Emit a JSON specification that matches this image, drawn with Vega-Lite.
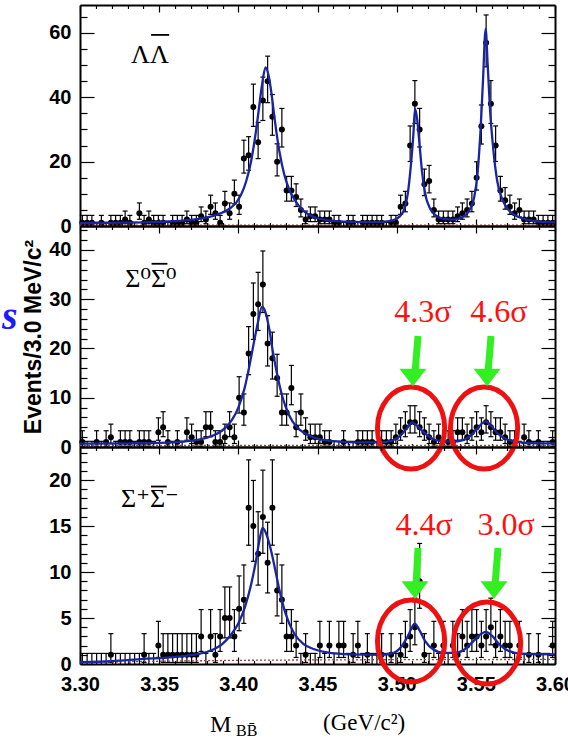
{
  "$schema": "https://vega.github.io/schema/vega-lite/v6.json",
  "padding": {"left": 1, "top": 4, "right": 0, "bottom": 0},
  "background": "white",
  "bounds": "flush",
  "spacing": 0,
  "datasets": {
    "pois": [
      {"n":0,"lo":0,"hi":1.15},{"n":1,"lo":0.17,"hi":3.3},{"n":2,"lo":0.71,"hi":4.64},{"n":3,"lo":1.37,"hi":5.92},
      {"n":4,"lo":2.09,"hi":7.16},{"n":5,"lo":2.84,"hi":8.38},{"n":6,"lo":3.62,"hi":9.58},{"n":7,"lo":4.42,"hi":10.77},
      {"n":8,"lo":5.23,"hi":11.95},{"n":9,"lo":6.06,"hi":13.11},{"n":10,"lo":6.89,"hi":14.27},{"n":11,"lo":7.73,"hi":15.42},
      {"n":12,"lo":8.58,"hi":16.56},{"n":13,"lo":9.44,"hi":17.7},{"n":14,"lo":10.3,"hi":18.83},{"n":15,"lo":11.17,"hi":19.96},
      {"n":16,"lo":12.04,"hi":21.08},{"n":17,"lo":12.92,"hi":22.2},{"n":18,"lo":13.8,"hi":23.32},{"n":19,"lo":14.68,"hi":24.44},
      {"n":20,"lo":15.57,"hi":25.55},{"n":21,"lo":16.45,"hi":26.66},{"n":22,"lo":17.35,"hi":27.77},{"n":25,"lo":20.05,"hi":31.1},
      {"n":26,"lo":20.95,"hi":32.2},{"n":27,"lo":21.85,"hi":33.3},{"n":29,"lo":23.66,"hi":35.46},{"n":30,"lo":24.56,"hi":36.55},
      {"n":31,"lo":25.47,"hi":37.63},{"n":33,"lo":27.3,"hi":39.8},{"n":34,"lo":28.21,"hi":40.87},{"n":37,"lo":30.96,"hi":44.1},
      {"n":38,"lo":31.88,"hi":45.2},{"n":39,"lo":32.8,"hi":46.28},{"n":45,"lo":38.34,"hi":52.8},{"n":57,"lo":49.48,"hi":65.6}
    ],
    "lam": [
      {"m":3.3015,"n":1},{"m":3.3045,"n":1},{"m":3.3075,"n":1},{"m":3.3105,"n":0},{"m":3.3135,"n":1},{"m":3.3165,"n":0},{"m":3.3195,"n":1},{"m":3.3225,"n":1},{"m":3.3255,"n":1},{"m":3.3285,"n":2},
      {"m":3.3315,"n":1},{"m":3.3345,"n":0},{"m":3.3375,"n":4},{"m":3.3405,"n":1},{"m":3.3435,"n":2},{"m":3.3465,"n":1},{"m":3.3495,"n":1},{"m":3.3525,"n":1},{"m":3.3555,"n":0},{"m":3.3585,"n":1},
      {"m":3.3615,"n":1},{"m":3.3645,"n":1},{"m":3.3675,"n":2},{"m":3.3705,"n":1},{"m":3.3735,"n":1},{"m":3.3765,"n":3},{"m":3.3795,"n":2},{"m":3.3825,"n":6},{"m":3.3855,"n":4},{"m":3.3885,"n":1},
      {"m":3.3915,"n":7},{"m":3.3945,"n":4},{"m":3.3975,"n":10},{"m":3.4005,"n":6},{"m":3.4035,"n":21},{"m":3.4065,"n":22},{"m":3.4095,"n":37},{"m":3.4125,"n":26},{"m":3.4155,"n":39},{"m":3.4185,"n":45},
      {"m":3.4215,"n":34},{"m":3.4245,"n":20},{"m":3.4275,"n":30},{"m":3.4305,"n":11},{"m":3.4335,"n":11},{"m":3.4365,"n":9},{"m":3.4395,"n":5},{"m":3.4425,"n":2},{"m":3.4455,"n":3},{"m":3.4485,"n":3},
      {"m":3.4515,"n":2},{"m":3.4545,"n":2},{"m":3.4575,"n":2},{"m":3.4605,"n":1},{"m":3.4635,"n":1},{"m":3.4665,"n":0},{"m":3.4695,"n":1},{"m":3.4725,"n":1},{"m":3.4755,"n":0},{"m":3.4785,"n":1},
      {"m":3.4815,"n":1},{"m":3.4845,"n":1},{"m":3.4875,"n":1},{"m":3.4905,"n":1},{"m":3.4935,"n":0},{"m":3.4965,"n":1},{"m":3.4995,"n":1},{"m":3.5025,"n":6},{"m":3.5055,"n":7},{"m":3.5085,"n":25},
      {"m":3.5115,"n":38},{"m":3.5145,"n":30},{"m":3.5175,"n":13},{"m":3.5205,"n":14},{"m":3.5235,"n":5},{"m":3.5265,"n":2},{"m":3.5295,"n":2},{"m":3.5325,"n":2},{"m":3.5355,"n":2},{"m":3.5385,"n":3},
      {"m":3.5415,"n":4},{"m":3.5445,"n":5},{"m":3.5475,"n":7},{"m":3.5505,"n":15},{"m":3.5535,"n":31},{"m":3.5565,"n":57},{"m":3.5595,"n":38},{"m":3.5625,"n":25},{"m":3.5655,"n":11},{"m":3.5685,"n":8},
      {"m":3.5715,"n":6},{"m":3.5745,"n":4},{"m":3.5775,"n":5},{"m":3.5805,"n":2},{"m":3.5835,"n":2},{"m":3.5865,"n":2},{"m":3.5895,"n":1},{"m":3.5925,"n":1},{"m":3.5955,"n":1},{"m":3.5985,"n":1}
    ],
    "s0": [
      {"m":3.3015,"n":1},{"m":3.3045,"n":0},{"m":3.3075,"n":0},{"m":3.3105,"n":1},{"m":3.3135,"n":0},{"m":3.3165,"n":1},{"m":3.3195,"n":2},{"m":3.3225,"n":0},{"m":3.3255,"n":1},{"m":3.3285,"n":1},
      {"m":3.3315,"n":1},{"m":3.3345,"n":0},{"m":3.3375,"n":1},{"m":3.3405,"n":1},{"m":3.3435,"n":1},{"m":3.3465,"n":0},{"m":3.3495,"n":3},{"m":3.3525,"n":4},{"m":3.3555,"n":1},{"m":3.3585,"n":0},
      {"m":3.3615,"n":1},{"m":3.3645,"n":0},{"m":3.3675,"n":3},{"m":3.3705,"n":2},{"m":3.3735,"n":1},{"m":3.3765,"n":1},{"m":3.3795,"n":4},{"m":3.3825,"n":4},{"m":3.3855,"n":1},{"m":3.3885,"n":1},
      {"m":3.3915,"n":2},{"m":3.3945,"n":4},{"m":3.3975,"n":2},{"m":3.4005,"n":10},{"m":3.4035,"n":7},{"m":3.4065,"n":19},{"m":3.4095,"n":27},{"m":3.4125,"n":29},{"m":3.4155,"n":33},{"m":3.4185,"n":21},
      {"m":3.4215,"n":18},{"m":3.4245,"n":14},{"m":3.4275,"n":7},{"m":3.4305,"n":7},{"m":3.4335,"n":12},{"m":3.4365,"n":4},{"m":3.4395,"n":7},{"m":3.4425,"n":3},{"m":3.4455,"n":2},{"m":3.4485,"n":2},
      {"m":3.4515,"n":2},{"m":3.4545,"n":1},{"m":3.4575,"n":1},{"m":3.4605,"n":0},{"m":3.4635,"n":0},{"m":3.4665,"n":1},{"m":3.4695,"n":0},{"m":3.4725,"n":0},{"m":3.4755,"n":1},{"m":3.4785,"n":1},
      {"m":3.4815,"n":1},{"m":3.4845,"n":1},{"m":3.4875,"n":0},{"m":3.4905,"n":1},{"m":3.4935,"n":1},{"m":3.4965,"n":1},{"m":3.4995,"n":2},{"m":3.5025,"n":3},{"m":3.5055,"n":4},{"m":3.5085,"n":5},
      {"m":3.5115,"n":5},{"m":3.5145,"n":4},{"m":3.5175,"n":3},{"m":3.5205,"n":2},{"m":3.5235,"n":1},{"m":3.5265,"n":2},{"m":3.5295,"n":0},{"m":3.5325,"n":1},{"m":3.5355,"n":1},{"m":3.5385,"n":3},
      {"m":3.5415,"n":3},{"m":3.5445,"n":2},{"m":3.5475,"n":3},{"m":3.5505,"n":4},{"m":3.5535,"n":3},{"m":3.5565,"n":5},{"m":3.5595,"n":4},{"m":3.5625,"n":3},{"m":3.5655,"n":3},{"m":3.5685,"n":2},
      {"m":3.5715,"n":1},{"m":3.5745,"n":1},{"m":3.5775,"n":0},{"m":3.5805,"n":2},{"m":3.5835,"n":1},{"m":3.5865,"n":0},{"m":3.5895,"n":1},{"m":3.5925,"n":0},{"m":3.5955,"n":0},{"m":3.5985,"n":1}
    ],
    "sp": [
      {"m":3.3015,"n":0},{"m":3.3045,"n":0},{"m":3.3075,"n":0},{"m":3.3105,"n":0},{"m":3.3135,"n":0},{"m":3.3165,"n":0},{"m":3.3195,"n":1},{"m":3.3225,"n":0},{"m":3.3255,"n":0},{"m":3.3285,"n":0},
      {"m":3.3315,"n":0},{"m":3.3345,"n":0},{"m":3.3375,"n":0},{"m":3.3405,"n":1},{"m":3.3435,"n":0},{"m":3.3465,"n":0},{"m":3.3495,"n":2},{"m":3.3525,"n":1},{"m":3.3555,"n":1},{"m":3.3585,"n":1},
      {"m":3.3615,"n":1},{"m":3.3645,"n":1},{"m":3.3675,"n":1},{"m":3.3705,"n":1},{"m":3.3735,"n":1},{"m":3.3765,"n":3},{"m":3.3795,"n":0},{"m":3.3825,"n":3},{"m":3.3855,"n":1},{"m":3.3885,"n":3},
      {"m":3.3915,"n":5},{"m":3.3945,"n":5},{"m":3.3975,"n":3},{"m":3.4005,"n":6},{"m":3.4035,"n":7},{"m":3.4065,"n":17},{"m":3.4095,"n":15},{"m":3.4125,"n":12},{"m":3.4155,"n":16},{"m":3.4185,"n":11},
      {"m":3.4215,"n":17},{"m":3.4245,"n":8},{"m":3.4275,"n":7},{"m":3.4305,"n":3},{"m":3.4335,"n":3},{"m":3.4365,"n":2},{"m":3.4395,"n":0},{"m":3.4425,"n":1},{"m":3.4455,"n":0},{"m":3.4485,"n":0},
      {"m":3.4515,"n":2},{"m":3.4545,"n":0},{"m":3.4575,"n":2},{"m":3.4605,"n":0},{"m":3.4635,"n":2},{"m":3.4665,"n":2},{"m":3.4695,"n":0},{"m":3.4725,"n":1},{"m":3.4755,"n":2},{"m":3.4785,"n":0},
      {"m":3.4815,"n":1},{"m":3.4845,"n":0},{"m":3.4875,"n":0},{"m":3.4905,"n":1},{"m":3.4935,"n":0},{"m":3.4965,"n":1},{"m":3.4995,"n":0},{"m":3.5025,"n":1},{"m":3.5055,"n":2},{"m":3.5085,"n":3},
      {"m":3.5115,"n":4},{"m":3.5145,"n":9},{"m":3.5175,"n":1},{"m":3.5205,"n":0},{"m":3.5235,"n":2},{"m":3.5265,"n":0},{"m":3.5295,"n":2},{"m":3.5325,"n":0},{"m":3.5355,"n":2},{"m":3.5385,"n":1},
      {"m":3.5415,"n":3},{"m":3.5445,"n":2},{"m":3.5475,"n":3},{"m":3.5505,"n":3},{"m":3.5535,"n":2},{"m":3.5565,"n":3},{"m":3.5595,"n":4},{"m":3.5625,"n":2},{"m":3.5655,"n":3},{"m":3.5685,"n":2},
      {"m":3.5715,"n":2},{"m":3.5745,"n":0},{"m":3.5775,"n":2},{"m":3.5805,"n":0},{"m":3.5835,"n":1},{"m":3.5865,"n":0},{"m":3.5895,"n":1},{"m":3.5925,"n":0},{"m":3.5955,"n":0},{"m":3.5985,"n":2}
    ],
    "fitlam": [
      {"m":3.3,"f":0.9},{"m":3.32,"f":1.0},{"m":3.34,"f":1.15},{"m":3.355,"f":1.4},{"m":3.365,"f":1.7},{"m":3.375,"f":2.2},{"m":3.383,"f":3.0},{"m":3.39,"f":4.2},{"m":3.395,"f":5.6},{"m":3.399,"f":7.5},
      {"m":3.402,"f":10},{"m":3.405,"f":14},{"m":3.408,"f":20},{"m":3.411,"f":29},{"m":3.413,"f":36.5},{"m":3.415,"f":44},{"m":3.4172,"f":49.3},{"m":3.419,"f":47},{"m":3.421,"f":41},{"m":3.423,"f":33},
      {"m":3.426,"f":23},{"m":3.429,"f":16},{"m":3.432,"f":11.5},{"m":3.436,"f":7.8},{"m":3.44,"f":5.2},{"m":3.445,"f":3.4},{"m":3.45,"f":2.4},{"m":3.458,"f":1.7},{"m":3.468,"f":1.35},{"m":3.48,"f":1.2},
      {"m":3.49,"f":1.3},{"m":3.497,"f":1.7},{"m":3.502,"f":3.0},{"m":3.505,"f":5.5},{"m":3.507,"f":10},{"m":3.509,"f":19},{"m":3.5105,"f":28},{"m":3.5116,"f":36.5},{"m":3.513,"f":33},{"m":3.5145,"f":25},
      {"m":3.516,"f":17},{"m":3.518,"f":10},{"m":3.521,"f":5.5},{"m":3.525,"f":3.2},{"m":3.53,"f":2.2},{"m":3.536,"f":2.0},{"m":3.541,"f":2.6},{"m":3.546,"f":5},{"m":3.549,"f":9},{"m":3.551,"f":16},
      {"m":3.553,"f":30},{"m":3.5545,"f":45},{"m":3.5562,"f":61.3},{"m":3.5575,"f":50},{"m":3.559,"f":36},{"m":3.561,"f":24},{"m":3.5635,"f":14},{"m":3.567,"f":8},{"m":3.571,"f":4.8},{"m":3.576,"f":3.0},
      {"m":3.582,"f":2.0},{"m":3.589,"f":1.4},{"m":3.595,"f":1.2},{"m":3.6,"f":1.1}
    ],
    "fits0": [
      {"m":3.3,"f":0.7},{"m":3.33,"f":0.75},{"m":3.35,"f":0.85},{"m":3.365,"f":1.1},{"m":3.375,"f":1.5},{"m":3.383,"f":2.2},{"m":3.39,"f":3.4},{"m":3.396,"f":5.5},{"m":3.4,"f":8},{"m":3.404,"f":12},
      {"m":3.407,"f":16.5},{"m":3.41,"f":21.5},{"m":3.4125,"f":25.5},{"m":3.415,"f":28.5},{"m":3.417,"f":27.5},{"m":3.4195,"f":24},{"m":3.422,"f":19},{"m":3.425,"f":14},{"m":3.428,"f":10},{"m":3.432,"f":6.5},
      {"m":3.437,"f":4.0},{"m":3.443,"f":2.6},{"m":3.45,"f":1.7},{"m":3.46,"f":1.2},{"m":3.475,"f":0.95},{"m":3.49,"f":0.95},{"m":3.497,"f":1.3},{"m":3.502,"f":2.2},{"m":3.506,"f":3.6},{"m":3.5098,"f":5.0},
      {"m":3.513,"f":4.3},{"m":3.517,"f":3.0},{"m":3.522,"f":1.8},{"m":3.528,"f":1.2},{"m":3.535,"f":1.1},{"m":3.542,"f":1.4},{"m":3.547,"f":2.4},{"m":3.551,"f":3.8},{"m":3.5562,"f":5.2},{"m":3.5595,"f":4.4},
      {"m":3.563,"f":3.0},{"m":3.568,"f":1.8},{"m":3.575,"f":1.1},{"m":3.585,"f":0.8},{"m":3.6,"f":0.75}
    ],
    "fitsp": [
      {"m":3.3,"f":0.2},{"m":3.32,"f":0.3},{"m":3.34,"f":0.55},{"m":3.355,"f":0.7},{"m":3.365,"f":0.85},{"m":3.375,"f":1.1},{"m":3.383,"f":1.5},{"m":3.39,"f":2.2},{"m":3.395,"f":3.1},{"m":3.4,"f":4.4},
      {"m":3.404,"f":6.1},{"m":3.408,"f":8.6},{"m":3.411,"f":11.1},{"m":3.4135,"f":13.6},{"m":3.4153,"f":14.8},{"m":3.417,"f":14.4},{"m":3.42,"f":12.8},{"m":3.423,"f":10.5},{"m":3.426,"f":8.0},{"m":3.43,"f":5.4},
      {"m":3.435,"f":3.4},{"m":3.441,"f":2.2},{"m":3.448,"f":1.6},{"m":3.458,"f":1.2},{"m":3.47,"f":1.05},{"m":3.49,"f":1.0},{"m":3.498,"f":1.2},{"m":3.503,"f":1.9},{"m":3.507,"f":3.0},{"m":3.5114,"f":4.4},
      {"m":3.514,"f":3.8},{"m":3.518,"f":2.5},{"m":3.523,"f":1.6},{"m":3.53,"f":1.2},{"m":3.537,"f":1.2},{"m":3.543,"f":1.6},{"m":3.548,"f":2.4},{"m":3.552,"f":3.1},{"m":3.5563,"f":3.5},{"m":3.56,"f":3.1},
      {"m":3.565,"f":2.1},{"m":3.571,"f":1.4},{"m":3.58,"f":1.1},{"m":3.6,"f":1.05}
    ],
    "bklam": [{"m":3.3,"f":0.3},{"m":3.6,"f":0.3}],
    "bks0": [{"m":3.3,"f":0.3},{"m":3.6,"f":0.35}],
    "bksp": [{"m":3.3,"f":0.15},{"m":3.35,"f":0.3},{"m":3.4,"f":0.4},{"m":3.45,"f":0.45},{"m":3.6,"f":0.5}]
  },
  "vconcat": [
    {
      "width": 475, "height": 221,
      "layer": [
        {"data": {"name": "lam"},
         "transform": [{"lookup": "n", "from": {"data": {"name": "pois"}, "key": "n", "fields": ["lo", "hi"]}}],
         "mark": {"type": "rule", "color": "black", "strokeWidth": 1.2},
         "encoding": {
           "x": {"field": "m", "type": "quantitative", "scale": {"domain": [3.3, 3.6], "nice": false, "zero": false},
                 "axis": {"orient": "bottom", "title": null, "labels": false, "values": [3.3,3.31,3.32,3.33,3.34,3.35,3.36,3.37,3.38,3.39,3.4,3.41,3.42,3.43,3.44,3.45,3.46,3.47,3.48,3.49,3.5,3.51,3.52,3.53,3.54,3.55,3.56,3.57,3.58,3.59,3.6],
                          "tickSize": {"condition": {"test": "round(datum.value*100) % 5 === 0", "value": -7}, "value": -3.5}}},
           "y": {"field": "lo", "type": "quantitative", "scale": {"domain": [0, 68.7], "nice": false, "zero": false},
                 "axis": {"orient": "left", "title": null, "values": [0,5,10,15,20,25,30,35,40,45,50,55,60,65],
                          "labelExpr": "datum.value % 20 === 0 ? datum.label : ''", "labelPadding": 23,
                          "tickSize": {"condition": {"test": "datum.value % 20 === 0", "value": -14}, "value": -7}}},
           "y2": {"field": "hi"}
         }},
        {"data": {"name": "lam"},
         "transform": [{"lookup": "n", "from": {"data": {"name": "pois"}, "key": "n", "fields": ["lo", "hi"]}}],
         "mark": {"type": "point", "shape": "stroke", "size": 25, "color": "black", "strokeWidth": 1.2, "opacity": 1},
         "encoding": {
           "x": {"field": "m", "type": "quantitative", "scale": {"domain": [3.3, 3.6], "nice": false, "zero": false},
                 "axis": {"orient": "top", "title": null, "labels": false, "values": [3.3,3.31,3.32,3.33,3.34,3.35,3.36,3.37,3.38,3.39,3.4,3.41,3.42,3.43,3.44,3.45,3.46,3.47,3.48,3.49,3.5,3.51,3.52,3.53,3.54,3.55,3.56,3.57,3.58,3.59,3.6],
                          "tickSize": {"condition": {"test": "round(datum.value*100) % 5 === 0", "value": -7}, "value": -3.5}}},
           "y": {"field": "hi", "type": "quantitative", "scale": {"domain": [0, 68.7], "nice": false, "zero": false},
                 "axis": {"orient": "right", "title": null, "labels": false, "values": [0,5,10,15,20,25,30,35,40,45,50,55,60,65],
                          "tickSize": {"condition": {"test": "datum.value % 20 === 0", "value": -14}, "value": -7}}}
         }},
        {"data": {"name": "lam"},
         "transform": [{"lookup": "n", "from": {"data": {"name": "pois"}, "key": "n", "fields": ["lo", "hi"]}}, {"filter": "datum.n > 0"}],
         "mark": {"type": "point", "shape": "stroke", "size": 25, "color": "black", "strokeWidth": 1.2, "opacity": 1},
         "encoding": {
           "x": {"field": "m", "type": "quantitative", "scale": {"domain": [3.3, 3.6], "nice": false, "zero": false}, "axis": null},
           "y": {"field": "lo", "type": "quantitative", "scale": {"domain": [0, 68.7], "nice": false, "zero": false}, "axis": null}
         }},
        {"data": {"name": "lam"},
         "transform": [{"filter": "datum.n > 0"}],
         "mark": {"type": "point", "shape": "circle", "filled": true, "size": 36, "color": "black", "opacity": 1},
         "encoding": {
           "x": {"field": "m", "type": "quantitative", "scale": {"domain": [3.3, 3.6], "nice": false, "zero": false}, "axis": null},
           "y": {"field": "n", "type": "quantitative", "scale": {"domain": [0, 68.7], "nice": false, "zero": false}, "axis": null}
         }},
        {"data": {"name": "bklam"},
         "mark": {"type": "line", "color": "#b03a3a", "strokeWidth": 1.3, "strokeDash": [2, 2]},
         "encoding": {
           "x": {"field": "m", "type": "quantitative", "scale": {"domain": [3.3, 3.6], "nice": false, "zero": false}, "axis": null},
           "y": {"field": "f", "type": "quantitative", "scale": {"domain": [0, 68.7], "nice": false, "zero": false}, "axis": null}
         }},
        {"data": {"name": "fitlam"},
         "mark": {"type": "line", "color": "#1a25a0", "strokeWidth": 2.3, "interpolate": "monotone"},
         "encoding": {
           "x": {"field": "m", "type": "quantitative", "scale": {"domain": [3.3, 3.6], "nice": false, "zero": false}, "axis": null},
           "y": {"field": "f", "type": "quantitative", "scale": {"domain": [0, 68.7], "nice": false, "zero": false}, "axis": null}
         }},
        {"data": {"values": [{"m": 3.3442, "v": 50.7, "t": "\u039b\u039b"}]},
         "mark": {"type": "text", "font": "Liberation Serif", "fontSize": 26, "align": "center", "baseline": "alphabetic", "color": "black"},
         "encoding": {
           "x": {"field": "m", "type": "quantitative", "scale": {"domain": [3.3, 3.6], "nice": false, "zero": false}, "axis": null},
           "y": {"field": "v", "type": "quantitative", "scale": {"domain": [0, 68.7], "nice": false, "zero": false}, "axis": null},
           "text": {"field": "t"}
         }},
        {"data": {"values": [{"m": 3.3449, "m2": 3.3563, "v": 59.4}]},
         "mark": {"type": "rule", "color": "black", "strokeWidth": 1.8},
         "encoding": {
           "x": {"field": "m", "type": "quantitative", "scale": {"domain": [3.3, 3.6], "nice": false, "zero": false}, "axis": null},
           "x2": {"field": "m2"},
           "y": {"field": "v", "type": "quantitative", "scale": {"domain": [0, 68.7], "nice": false, "zero": false}, "axis": null}
         }}
      ],
      "resolve": {"axis": {"x": "independent", "y": "independent"}}
    },
    {
      "width": 475, "height": 221,
      "layer": [
        {"data": {"name": "s0"},
         "transform": [{"lookup": "n", "from": {"data": {"name": "pois"}, "key": "n", "fields": ["lo", "hi"]}}],
         "mark": {"type": "rule", "color": "black", "strokeWidth": 1.2},
         "encoding": {
           "x": {"field": "m", "type": "quantitative", "scale": {"domain": [3.3, 3.6], "nice": false, "zero": false},
                 "axis": {"orient": "bottom", "title": null, "labels": false, "values": [3.3,3.31,3.32,3.33,3.34,3.35,3.36,3.37,3.38,3.39,3.4,3.41,3.42,3.43,3.44,3.45,3.46,3.47,3.48,3.49,3.5,3.51,3.52,3.53,3.54,3.55,3.56,3.57,3.58,3.59,3.6],
                          "tickSize": {"condition": {"test": "round(datum.value*100) % 5 === 0", "value": -7}, "value": -3.5}}},
           "y": {"field": "lo", "type": "quantitative", "scale": {"domain": [0, 44.87], "nice": false, "zero": false},
                 "axis": {"orient": "left", "title": "Events/3.0 MeV/c\u00b2", "titlePadding": 3, "values": [0,2,4,6,8,10,12,14,16,18,20,22,24,26,28,30,32,34,36,38,40,42,44],
                          "labelExpr": "datum.value % 10 === 0 ? datum.label : ''", "labelPadding": 23,
                          "tickSize": {"condition": {"test": "datum.value % 10 === 0", "value": -14}, "value": -7}}},
           "y2": {"field": "hi"}
         }},
        {"data": {"name": "s0"},
         "transform": [{"lookup": "n", "from": {"data": {"name": "pois"}, "key": "n", "fields": ["lo", "hi"]}}],
         "mark": {"type": "point", "shape": "stroke", "size": 25, "color": "black", "strokeWidth": 1.2, "opacity": 1},
         "encoding": {
           "x": {"field": "m", "type": "quantitative", "scale": {"domain": [3.3, 3.6], "nice": false, "zero": false},
                 "axis": {"orient": "top", "title": null, "labels": false, "values": [3.3,3.31,3.32,3.33,3.34,3.35,3.36,3.37,3.38,3.39,3.4,3.41,3.42,3.43,3.44,3.45,3.46,3.47,3.48,3.49,3.5,3.51,3.52,3.53,3.54,3.55,3.56,3.57,3.58,3.59,3.6],
                          "tickSize": {"condition": {"test": "round(datum.value*100) % 5 === 0", "value": -7}, "value": -3.5}}},
           "y": {"field": "hi", "type": "quantitative", "scale": {"domain": [0, 44.87], "nice": false, "zero": false},
                 "axis": {"orient": "right", "title": null, "labels": false, "values": [0,2,4,6,8,10,12,14,16,18,20,22,24,26,28,30,32,34,36,38,40,42,44],
                          "tickSize": {"condition": {"test": "datum.value % 10 === 0", "value": -14}, "value": -7}}}
         }},
        {"data": {"name": "s0"},
         "transform": [{"lookup": "n", "from": {"data": {"name": "pois"}, "key": "n", "fields": ["lo", "hi"]}}, {"filter": "datum.n > 0"}],
         "mark": {"type": "point", "shape": "stroke", "size": 25, "color": "black", "strokeWidth": 1.2, "opacity": 1},
         "encoding": {
           "x": {"field": "m", "type": "quantitative", "scale": {"domain": [3.3, 3.6], "nice": false, "zero": false}, "axis": null},
           "y": {"field": "lo", "type": "quantitative", "scale": {"domain": [0, 44.87], "nice": false, "zero": false}, "axis": null}
         }},
        {"data": {"name": "s0"},
         "transform": [{"filter": "datum.n > 0"}],
         "mark": {"type": "point", "shape": "circle", "filled": true, "size": 36, "color": "black", "opacity": 1},
         "encoding": {
           "x": {"field": "m", "type": "quantitative", "scale": {"domain": [3.3, 3.6], "nice": false, "zero": false}, "axis": null},
           "y": {"field": "n", "type": "quantitative", "scale": {"domain": [0, 44.87], "nice": false, "zero": false}, "axis": null}
         }},
        {"data": {"name": "bks0"},
         "mark": {"type": "line", "color": "#b03a3a", "strokeWidth": 1.3, "strokeDash": [2, 2]},
         "encoding": {
           "x": {"field": "m", "type": "quantitative", "scale": {"domain": [3.3, 3.6], "nice": false, "zero": false}, "axis": null},
           "y": {"field": "f", "type": "quantitative", "scale": {"domain": [0, 44.87], "nice": false, "zero": false}, "axis": null}
         }},
        {"data": {"name": "fits0"},
         "mark": {"type": "line", "color": "#1a25a0", "strokeWidth": 2.3, "interpolate": "monotone"},
         "encoding": {
           "x": {"field": "m", "type": "quantitative", "scale": {"domain": [3.3, 3.6], "nice": false, "zero": false}, "axis": null},
           "y": {"field": "f", "type": "quantitative", "scale": {"domain": [0, 44.87], "nice": false, "zero": false}, "axis": null}
         }},
        {"data": {"values": [{"m": 3.3448, "v": 32.5, "t": "\u03a3\u2070\u03a3\u2070"}]},
         "mark": {"type": "text", "font": "Liberation Serif, DejaVu Serif", "fontSize": 26, "align": "center", "baseline": "alphabetic", "color": "black"},
         "encoding": {
           "x": {"field": "m", "type": "quantitative", "scale": {"domain": [3.3, 3.6], "nice": false, "zero": false}, "axis": null},
           "y": {"field": "v", "type": "quantitative", "scale": {"domain": [0, 44.87], "nice": false, "zero": false}, "axis": null},
           "text": {"field": "t"}
         }},
        {"data": {"values": [{"m": 3.3452, "m2": 3.3552, "v": 37.2}]},
         "mark": {"type": "rule", "color": "black", "strokeWidth": 1.8},
         "encoding": {
           "x": {"field": "m", "type": "quantitative", "scale": {"domain": [3.3, 3.6], "nice": false, "zero": false}, "axis": null},
           "x2": {"field": "m2"},
           "y": {"field": "v", "type": "quantitative", "scale": {"domain": [0, 44.87], "nice": false, "zero": false}, "axis": null}
         }},
        {"data": {"values": [{"m": 3.2507, "v": 24.0, "t": "s"}]},
         "mark": {"type": "text", "font": "Liberation Serif", "fontSize": 40, "fontWeight": "bold", "fontStyle": "italic", "align": "left", "baseline": "alphabetic", "color": "#1a1aff"},
         "encoding": {
           "x": {"field": "m", "type": "quantitative", "scale": {"domain": [3.3, 3.6], "nice": false, "zero": false}, "axis": null},
           "y": {"field": "v", "type": "quantitative", "scale": {"domain": [0, 44.87], "nice": false, "zero": false}, "axis": null},
           "text": {"field": "t"}
         }},
        {"data": {"values": [{"m": 3.5091, "v": 3.86}, {"m": 3.5552, "v": 3.86}]},
         "mark": {"type": "point", "shape": "M0,-1A0.82,1,0,1,1,0,1A0.82,1,0,1,1,0,-1Z", "size": 6724, "filled": false, "color": "#ee1111", "strokeWidth": 5, "opacity": 1},
         "encoding": {
           "x": {"field": "m", "type": "quantitative", "scale": {"domain": [3.3, 3.6], "nice": false, "zero": false}, "axis": null},
           "y": {"field": "v", "type": "quantitative", "scale": {"domain": [0, 44.87], "nice": false, "zero": false}, "axis": null}
         }},
        {"data": {"values": [{"m": 3.5135, "v": 22.54, "m2": 3.5116, "v2": 15.23}, {"m": 3.5596, "v": 22.54, "m2": 3.5577, "v2": 15.23}]},
         "mark": {"type": "rule", "color": "#33ee22", "strokeWidth": 7},
         "encoding": {
           "x": {"field": "m", "type": "quantitative", "scale": {"domain": [3.3, 3.6], "nice": false, "zero": false}, "axis": null},
           "y": {"field": "v", "type": "quantitative", "scale": {"domain": [0, 44.87], "nice": false, "zero": false}, "axis": null},
           "x2": {"field": "m2"}, "y2": {"field": "v2"}
         }},
        {"data": {"values": [{"m": 3.5103, "v": 14.11}, {"m": 3.5571, "v": 14.11}]},
         "mark": {"type": "point", "shape": "M-1,-0.65L1,-0.65L0,0.65Z", "size": 729, "filled": true, "color": "#33ee22", "opacity": 1},
         "encoding": {
           "x": {"field": "m", "type": "quantitative", "scale": {"domain": [3.3, 3.6], "nice": false, "zero": false}, "axis": null},
           "y": {"field": "v", "type": "quantitative", "scale": {"domain": [0, 44.87], "nice": false, "zero": false}, "axis": null}
         }},
        {"data": {"values": [{"m": 3.5166, "v": 27.41, "t": "4.3\u03c3"}, {"m": 3.5646, "v": 27.41, "t": "4.6\u03c3"}]},
         "mark": {"type": "text", "font": "Liberation Serif, DejaVu Serif", "fontSize": 32, "align": "center", "baseline": "middle", "color": "#ff1010"},
         "encoding": {
           "x": {"field": "m", "type": "quantitative", "scale": {"domain": [3.3, 3.6], "nice": false, "zero": false}, "axis": null},
           "y": {"field": "v", "type": "quantitative", "scale": {"domain": [0, 44.87], "nice": false, "zero": false}, "axis": null},
           "text": {"field": "t"}
         }}
      ],
      "resolve": {"axis": {"x": "independent", "y": "independent"}}
    },
    {
      "width": 475, "height": 217,
      "layer": [
        {"data": {"name": "sp"},
         "transform": [{"lookup": "n", "from": {"data": {"name": "pois"}, "key": "n", "fields": ["lo", "hi"]}}],
         "mark": {"type": "rule", "color": "black", "strokeWidth": 1.2},
         "encoding": {
           "x": {"field": "m", "type": "quantitative", "scale": {"domain": [3.3, 3.6], "nice": false, "zero": false},
                 "axis": {"orient": "bottom", "title": null, "values": [3.3,3.31,3.32,3.33,3.34,3.35,3.36,3.37,3.38,3.39,3.4,3.41,3.42,3.43,3.44,3.45,3.46,3.47,3.48,3.49,3.5,3.51,3.52,3.53,3.54,3.55,3.56,3.57,3.58,3.59,3.6],
                          "labelExpr": "round(datum.value*100) % 5 === 0 ? format(datum.value, '.2f') : ''", "labelPadding": 17,
                          "tickSize": {"condition": {"test": "round(datum.value*100) % 5 === 0", "value": -7}, "value": -3.5}}},
           "y": {"field": "lo", "type": "quantitative", "scale": {"domain": [0, 23.6], "nice": false, "zero": false},
                 "axis": {"orient": "left", "title": null, "values": [0,1,2,3,4,5,6,7,8,9,10,11,12,13,14,15,16,17,18,19,20,21,22,23],
                          "labelExpr": "datum.value % 5 === 0 ? datum.label : ''", "labelPadding": 23,
                          "tickSize": {"condition": {"test": "datum.value % 5 === 0", "value": -14}, "value": -7}}},
           "y2": {"field": "hi"}
         }},
        {"data": {"name": "sp"},
         "transform": [{"lookup": "n", "from": {"data": {"name": "pois"}, "key": "n", "fields": ["lo", "hi"]}}],
         "mark": {"type": "point", "shape": "stroke", "size": 25, "color": "black", "strokeWidth": 1.2, "opacity": 1},
         "encoding": {
           "x": {"field": "m", "type": "quantitative", "scale": {"domain": [3.3, 3.6], "nice": false, "zero": false},
                 "axis": {"orient": "top", "title": null, "labels": false, "values": [3.3,3.31,3.32,3.33,3.34,3.35,3.36,3.37,3.38,3.39,3.4,3.41,3.42,3.43,3.44,3.45,3.46,3.47,3.48,3.49,3.5,3.51,3.52,3.53,3.54,3.55,3.56,3.57,3.58,3.59,3.6],
                          "tickSize": {"condition": {"test": "round(datum.value*100) % 5 === 0", "value": -7}, "value": -3.5}}},
           "y": {"field": "hi", "type": "quantitative", "scale": {"domain": [0, 23.6], "nice": false, "zero": false},
                 "axis": {"orient": "right", "title": null, "labels": false, "values": [0,1,2,3,4,5,6,7,8,9,10,11,12,13,14,15,16,17,18,19,20,21,22,23],
                          "tickSize": {"condition": {"test": "datum.value % 5 === 0", "value": -14}, "value": -7}}}
         }},
        {"data": {"name": "sp"},
         "transform": [{"lookup": "n", "from": {"data": {"name": "pois"}, "key": "n", "fields": ["lo", "hi"]}}, {"filter": "datum.n > 0"}],
         "mark": {"type": "point", "shape": "stroke", "size": 25, "color": "black", "strokeWidth": 1.2, "opacity": 1},
         "encoding": {
           "x": {"field": "m", "type": "quantitative", "scale": {"domain": [3.3, 3.6], "nice": false, "zero": false}, "axis": null},
           "y": {"field": "lo", "type": "quantitative", "scale": {"domain": [0, 23.6], "nice": false, "zero": false}, "axis": null}
         }},
        {"data": {"name": "sp"},
         "transform": [{"filter": "datum.n > 0"}],
         "mark": {"type": "point", "shape": "circle", "filled": true, "size": 36, "color": "black", "opacity": 1},
         "encoding": {
           "x": {"field": "m", "type": "quantitative", "scale": {"domain": [3.3, 3.6], "nice": false, "zero": false}, "axis": null},
           "y": {"field": "n", "type": "quantitative", "scale": {"domain": [0, 23.6], "nice": false, "zero": false}, "axis": null}
         }},
        {"data": {"name": "bksp"},
         "mark": {"type": "line", "color": "#b03a3a", "strokeWidth": 1.3, "strokeDash": [2, 2]},
         "encoding": {
           "x": {"field": "m", "type": "quantitative", "scale": {"domain": [3.3, 3.6], "nice": false, "zero": false}, "axis": null},
           "y": {"field": "f", "type": "quantitative", "scale": {"domain": [0, 23.6], "nice": false, "zero": false}, "axis": null}
         }},
        {"data": {"name": "fitsp"},
         "mark": {"type": "line", "color": "#1a25a0", "strokeWidth": 2.3, "interpolate": "monotone"},
         "encoding": {
           "x": {"field": "m", "type": "quantitative", "scale": {"domain": [3.3, 3.6], "nice": false, "zero": false}, "axis": null},
           "y": {"field": "f", "type": "quantitative", "scale": {"domain": [0, 23.6], "nice": false, "zero": false}, "axis": null}
         }},
        {"data": {"values": [{"m": 3.3442, "v": 17.07, "t": "\u03a3\u207a\u03a3\u207b"}]},
         "mark": {"type": "text", "font": "Liberation Serif, DejaVu Serif", "fontSize": 26, "align": "center", "baseline": "alphabetic", "color": "black"},
         "encoding": {
           "x": {"field": "m", "type": "quantitative", "scale": {"domain": [3.3, 3.6], "nice": false, "zero": false}, "axis": null},
           "y": {"field": "v", "type": "quantitative", "scale": {"domain": [0, 23.6], "nice": false, "zero": false}, "axis": null},
           "text": {"field": "t"}
         }},
        {"data": {"values": [{"m": 3.3448, "m2": 3.3548, "v": 19.3}]},
         "mark": {"type": "rule", "color": "black", "strokeWidth": 1.8},
         "encoding": {
           "x": {"field": "m", "type": "quantitative", "scale": {"domain": [3.3, 3.6], "nice": false, "zero": false}, "axis": null},
           "x2": {"field": "m2"},
           "y": {"field": "v", "type": "quantitative", "scale": {"domain": [0, 23.6], "nice": false, "zero": false}, "axis": null}
         }},
        {"data": {"values": [{"m": 3.3821, "v": -7.4, "t": "M", "s": 24, "st": "normal"}, {"m": 3.3985, "v": -7.83, "t": "BB\u0304", "s": 16, "st": "italic"}, {"m": 3.4535, "v": -7.18, "t": "(GeV/c\u00b2)", "s": 23, "st": "normal"}]},
         "mark": {"type": "text", "font": "Liberation Serif, DejaVu Serif", "align": "left", "baseline": "alphabetic", "color": "black"},
         "encoding": {
           "x": {"field": "m", "type": "quantitative", "scale": {"domain": [3.3, 3.6], "nice": false, "zero": false}, "axis": null},
           "y": {"field": "v", "type": "quantitative", "scale": {"domain": [0, 23.6], "nice": false, "zero": false}, "axis": null},
           "text": {"field": "t"},
           "size": {"field": "s", "type": "quantitative", "scale": null},
           "fontStyle": {"field": "st", "type": "nominal", "scale": null}
         }},
        {"data": {"values": [{"m": 3.5091, "v": 2.5}, {"m": 3.5571, "v": 2.28}]},
         "mark": {"type": "point", "shape": "M0,-1A0.82,1,0,1,1,0,1A0.82,1,0,1,1,0,-1Z", "size": 6724, "filled": false, "color": "#ee1111", "strokeWidth": 5, "opacity": 1},
         "encoding": {
           "x": {"field": "m", "type": "quantitative", "scale": {"domain": [3.3, 3.6], "nice": false, "zero": false}, "axis": null},
           "y": {"field": "v", "type": "quantitative", "scale": {"domain": [0, 23.6], "nice": false, "zero": false}, "axis": null}
         }},
        {"data": {"values": [{"m": 3.5135, "v": 12.62, "m2": 3.5122, "v2": 8.48}, {"m": 3.564, "v": 12.62, "m2": 3.5621, "v2": 8.48}]},
         "mark": {"type": "rule", "color": "#33ee22", "strokeWidth": 7},
         "encoding": {
           "x": {"field": "m", "type": "quantitative", "scale": {"domain": [3.3, 3.6], "nice": false, "zero": false}, "axis": null},
           "y": {"field": "v", "type": "quantitative", "scale": {"domain": [0, 23.6], "nice": false, "zero": false}, "axis": null},
           "x2": {"field": "m2"}, "y2": {"field": "v2"}
         }},
        {"data": {"values": [{"m": 3.5116, "v": 8.05}, {"m": 3.5615, "v": 8.05}]},
         "mark": {"type": "point", "shape": "M-1,-0.65L1,-0.65L0,0.65Z", "size": 729, "filled": true, "color": "#33ee22", "opacity": 1},
         "encoding": {
           "x": {"field": "m", "type": "quantitative", "scale": {"domain": [3.3, 3.6], "nice": false, "zero": false}, "axis": null},
           "y": {"field": "v", "type": "quantitative", "scale": {"domain": [0, 23.6], "nice": false, "zero": false}, "axis": null}
         }},
        {"data": {"values": [{"m": 3.5173, "v": 15.12, "t": "4.4\u03c3"}, {"m": 3.5691, "v": 15.12, "t": "3.0\u03c3"}]},
         "mark": {"type": "text", "font": "Liberation Serif, DejaVu Serif", "fontSize": 32, "align": "center", "baseline": "middle", "color": "#ff1010"},
         "encoding": {
           "x": {"field": "m", "type": "quantitative", "scale": {"domain": [3.3, 3.6], "nice": false, "zero": false}, "axis": null},
           "y": {"field": "v", "type": "quantitative", "scale": {"domain": [0, 23.6], "nice": false, "zero": false}, "axis": null},
           "text": {"field": "t"}
         }}
      ],
      "resolve": {"axis": {"x": "independent", "y": "independent"}}
    }
  ],
  "config": {
    "view": {"stroke": null},
    "axis": {
      "domainColor": "black", "domainWidth": 2, "tickColor": "black", "tickWidth": 1.2, "grid": false,
      "labelFont": "Liberation Sans", "labelFontSize": 20, "labelFontWeight": "bold", "labelColor": "black",
      "labelFlush": false, "labelOverlap": false,
      "titleFont": "Liberation Sans", "titleFontSize": 23, "titleFontWeight": "bold", "titleColor": "black"
    }
  }
}
